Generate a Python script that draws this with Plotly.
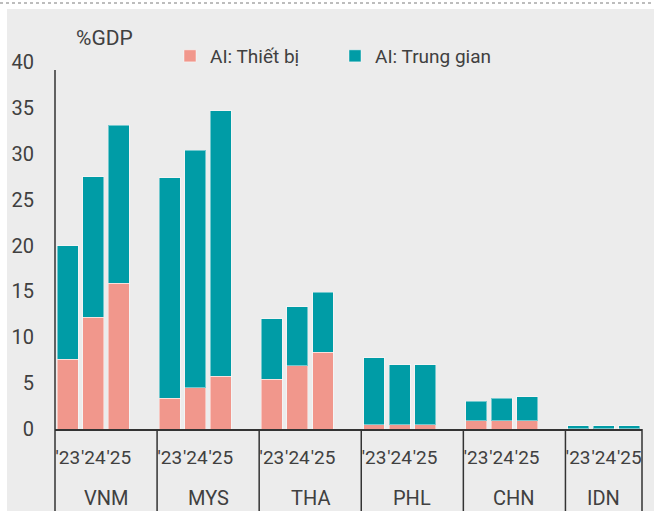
import plotly.graph_objects as go

# ---- data ----
countries = ["VNM", "MYS", "THA", "PHL", "CHN", "IDN"]
years = ["'23", "'24", "'25"]
# AI: Thiết bị (equipment), % GDP, per country x year
equipment = [7.6, 12.2, 15.9,
             3.35, 4.5, 5.75,
             5.45, 6.9, 8.35,
             0.45, 0.45, 0.45,
             0.9, 0.9, 0.9,
             0.05, 0.05, 0.05]
# AI: Trung gian (intermediate), % GDP
intermediate = [12.4, 15.3, 17.2,
                24.05, 25.9, 28.95,
                6.55, 6.4, 6.55,
                7.3, 6.55, 6.55,
                2.15, 2.45, 2.6,
                0.28, 0.28, 0.28]
yticks = [0, 5, 10, 15, 20, 25, 30, 35, 40]
series_names = ["AI: Thiết bị", "AI: Trung gian"]

# ---- styles ----
PINK = "#F1978C"
TEAL = "#009CA6"
BG = "#ECECEC"
TXT = "#404040"
AX = "#333333"
FONT = "Roboto"

W, H = 654, 511
ML, MR, MT, MB = 55, 12, 62, 82

# slot positions: each country gets 4 slots (3 bars + a gap), last one no gap
n_c, n_y = len(countries), len(years)
xpos, ticktext = [], []
for g in range(n_c):
    for j in range(n_y):
        xpos.append(4 * g + j)
        ticktext.append(years[j])
x_min = -0.5
x_max = 4 * (n_c - 1) + n_y - 0.5
bounds = [4 * g - 0.5 for g in range(n_c)] + [x_max]

fig = go.Figure()
fig.add_bar(x=xpos, y=equipment, name=series_names[0], marker_color=PINK,
            marker_line=dict(color="rgba(255,255,255,0.45)", width=1))
fig.add_bar(x=xpos, y=intermediate, name=series_names[1], marker_color=TEAL,
            marker_line=dict(color="rgba(255,255,255,0.45)", width=1))

plot_h = H - MT - MB
plot_w = W - ML - MR
def py(ypix):
    return (H - MB - ypix) / plot_h
def px(xpix):
    return (xpix - ML) / plot_w
def xp(xval):
    return (xval - x_min) / (x_max - x_min)

shapes = []
# white margins at top/left
shapes.append(dict(type="rect", xref="paper", yref="paper", x0=px(0), x1=px(W), y0=py(9), y1=py(0),
                   fillcolor="white", line_width=0, layer="above"))
shapes.append(dict(type="rect", xref="paper", yref="paper", x0=px(0), x1=px(7), y0=py(H), y1=py(0),
                   fillcolor="white", line_width=0, layer="above"))
# dotted line at top
shapes.append(dict(type="line", xref="paper", yref="paper", x0=px(0), x1=px(W), y0=py(3), y1=py(3),
                   line=dict(color="#BDBDBD", width=2, dash="dot"), layer="above"))
# group separators below axis
for b in bounds:
    shapes.append(dict(type="line", xref="paper", yref="paper", x0=xp(b), x1=xp(b), y0=py(H), y1=0,
                       line=dict(color=AX, width=1.5), layer="above"))
# value axis line (stops a little short of the top tick, as in the reference)
shapes.append(dict(type="line", xref="paper", yref="paper", x0=0, x1=0, y0=0, y1=py(70),
                   line=dict(color=AX, width=1.5), layer="above"))

annotations = []
for g, c in enumerate(countries):
    left = bounds[g]
    right = bounds[g + 1]
    annotations.append(dict(x=(left + right) / 2, xref="x", y=py(498), yref="paper",
                            text=c, showarrow=False, xanchor="center", yanchor="middle",
                            font=dict(family=FONT, size=20, color=TXT)))
annotations.append(dict(x=px(74), xref="paper", y=py(38), yref="paper", text="%GDP",
                        showarrow=False, xanchor="left", yanchor="middle",
                        font=dict(family=FONT, size=21, color=TXT)))

fig.update_layout(
    width=W, height=H,
    margin=dict(l=ML, r=MR, t=MT, b=MB, pad=0),
    barmode="stack", bargap=0.18,
    paper_bgcolor=BG, plot_bgcolor=BG,
    font=dict(family=FONT, color=TXT, size=19),
    showlegend=True,
    legend=dict(orientation="h", x=px(170), y=py(56), xanchor="left", yanchor="middle",
                bgcolor="rgba(0,0,0,0)", font=dict(family=FONT, size=19, color=TXT),
                entrywidth=120, entrywidthmode="pixels", traceorder="normal"),
    shapes=shapes, annotations=annotations,
)
fig.update_xaxes(range=[x_min, x_max], tickmode="array", tickvals=xpos, ticktext=ticktext,
                 tickangle=0,
                 showline=True, linecolor=AX, linewidth=1.5, showgrid=False, zeroline=False,
                 ticks="", tickfont=dict(family=FONT, size=19, color=TXT), ticklabelstandoff=10,
                 fixedrange=True)
fig.update_yaxes(range=[0, 40], tickmode="array", tickvals=yticks,
                 showline=False, showgrid=False, zeroline=False,
                 ticks="", tickfont=dict(family=FONT, size=20, color=TXT), ticklabelstandoff=20,
                 fixedrange=True)

fig.write_html("out.html", config={"displayModeBar": False},
               post_script="document.body.style.margin='0';")
